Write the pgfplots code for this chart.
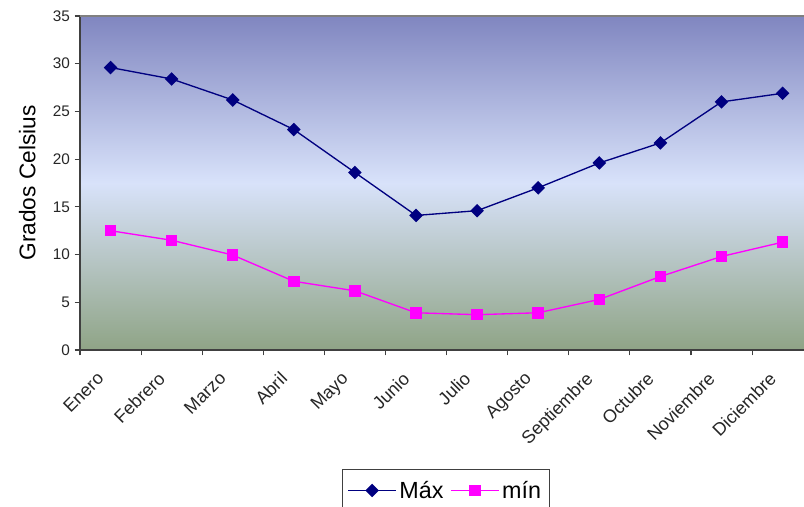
\documentclass[border=0pt]{standalone}
\usepackage{pgfplots}
\pgfplotsset{compat=1.18}
\usepackage{fontspec}
\setmainfont{Liberation Sans}
\usetikzlibrary{calc}
\definecolor{maxc}{RGB}{0,0,128}
\definecolor{minc}{RGB}{255,0,255}
\definecolor{bgtop}{RGB}{128,134,192}
\definecolor{bgmid}{RGB}{216,226,250}
\definecolor{bgbot}{RGB}{143,164,134}
\definecolor{axc}{RGB}{64,64,64}
\begin{document}
\begin{tikzpicture}[x=0.75pt,y=0.75pt]
\begin{axis}[
  name=ax,
  scale only axis,
  width=543pt, height=250.5pt,
  xmin=-0.5, xmax=11.35,
  ymin=0, ymax=35,
  ytick={0,5,...,35},
  xtick={0,...,11},
  xticklabels={Enero,Febrero,Marzo,Abril,Mayo,Junio,Julio,Agosto,Septiembre,Octubre,Noviembre,Diciembre},
  minor xtick={-0.5,0.5,...,11.5},
  major x tick style={draw=none},
  tick align=outside,
  major tick length=4pt,
  minor tick length=4pt,
  tick style={axc, line width=0.8pt},
  axis x line*=bottom,
  axis y line*=left,
  axis line style={axc, line width=1pt, -},
  /pgf/number format/assume math mode=true,
  ticklabel style={font=\fontsize{11.5pt}{13pt}\selectfont, text=black!85},
  xticklabel style={xshift=-11pt, yshift=-10pt, rotate=45, anchor=north east, inner sep=1pt, font=\fontsize{13.5pt}{15pt}\selectfont},
  ylabel={Grados Celsius},
  ylabel style={font=\fontsize{17pt}{20pt}\selectfont, at={(axis description cs:-0.055,0.5)}},
  axis background/.style={shade, top color=bgtop, bottom color=bgbot, middle color=bgmid},
  clip=false,
  legend columns=2,
  legend style={at={(axis description cs:0.505,-0.355)}, anchor=north, draw=axc, font=\fontsize{17.5pt}{20pt}\selectfont, inner xsep=4pt, inner ysep=7pt, /tikz/every even column/.append style={column sep=3pt}},
  legend image code/.code={\draw[#1] (0pt,0pt) -- (36pt,0pt); \draw[#1,only marks] plot coordinates {(18pt,0pt)};},
]
\addplot[maxc, line width=1pt, mark=square*, mark size=3.1pt, mark options={solid, rotate=45}] coordinates {
(0,29.6) (1,28.4) (2,26.2) (3,23.1) (4,18.6) (5,14.1) (6,14.6) (7,17.0) (8,19.6) (9,21.7) (10,26.0) (11,26.9)};
\addlegendentry{Máx}
\addplot[minc, line width=1pt, mark=square*, mark size=3.8pt, mark options={solid}] coordinates {
(0,12.5) (1,11.5) (2,9.95) (3,7.2) (4,6.2) (5,3.9) (6,3.7) (7,3.9) (8,5.3) (9,7.7) (10,9.8) (11,11.3)};
\addlegendentry{mín}
\draw[gray, line width=1.2pt] (rel axis cs:0,1) -- (rel axis cs:1,1);
\end{axis}
\pgfresetboundingbox
\path[use as bounding box] ($(ax.south west)+(-80,-157)$) rectangle ($(ax.north east)+(0,16)$);
\end{tikzpicture}
\end{document}
